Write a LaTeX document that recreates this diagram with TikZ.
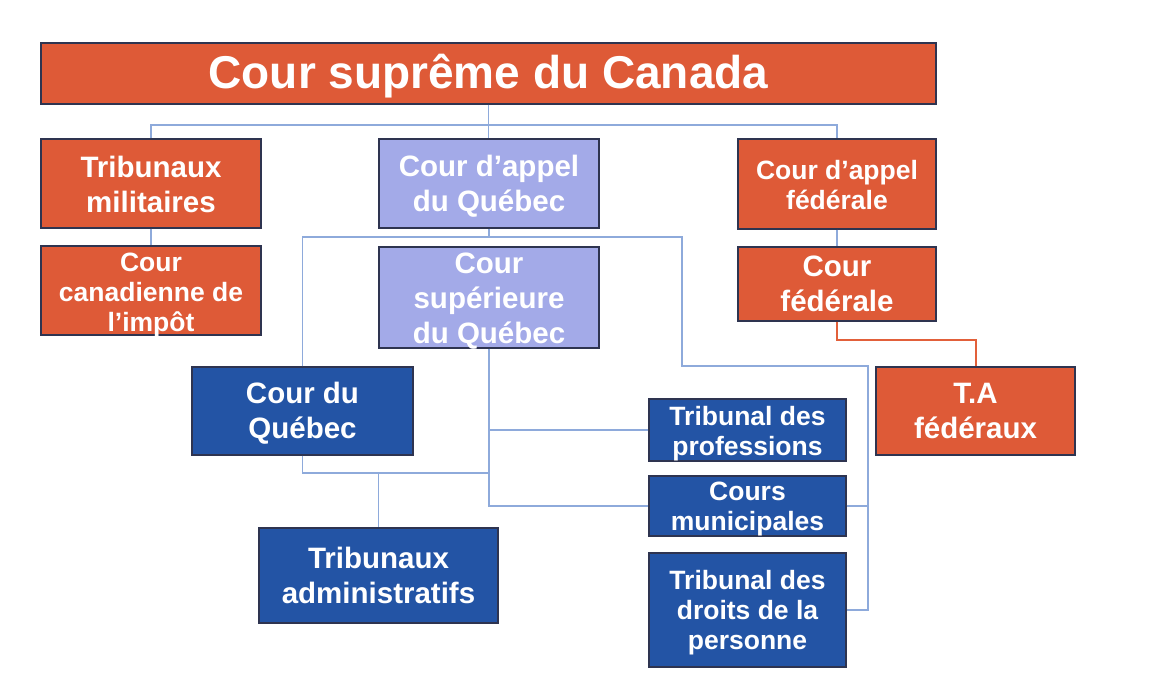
\documentclass[tikz,border=0pt]{standalone}
\usepackage{fontspec}
\setmainfont{Liberation Sans}
\definecolor{orng}{HTML}{DE5A37}
\definecolor{lilac}{HTML}{A3AAE8}
\definecolor{navy}{HTML}{2354A5}
\definecolor{edge}{HTML}{2E3450}
\definecolor{wire}{HTML}{8EAADB}
\definecolor{owire}{HTML}{E2603A}
\begin{document}
\begin{tikzpicture}[x=1pt,y=-1pt,
  box/.style={draw=edge,line width=1.2pt,inner sep=0pt},
  txt/.style={text=white,align=center,inner sep=0pt},
  big/.style={font=\bfseries\fontsize{29.5}{35}\selectfont},
  small/.style={font=\bfseries\fontsize{26.5}{30}\selectfont},
  org/.style={box,fill=orng},
  lil/.style={box,fill=lilac},
  blu/.style={box,fill=navy},
  wireline/.style={draw=wire,line width=1.3pt},
  owireline/.style={draw=owire,line width=2pt}]
\useasboundingbox (0,0) rectangle (1170,698);
\fill[white] (0,0) rectangle (1170,698);
% boxes
\node[org,minimum width=895pt,minimum height=61pt,
  label={[txt,font=\bfseries\fontsize{46}{50}\selectfont,yshift=-3pt]center:{Cour suprême du Canada}}] (sup) at (488.5,73.5) {};
\node[org,minimum width=220pt,minimum height=89pt,
  label={[txt,big,yshift=-1pt]center:{Tribunaux\\militaires}}] (tm) at (151,183.5) {};
\node[org,minimum width=220pt,minimum height=89pt,
  label={[txt,small,yshift=-4pt]center:{Cour\\canadienne de\\l’impôt}}] (cci) at (151,290.5) {};
\node[lil,minimum width=220pt,minimum height=89pt,
  label={[txt,big,yshift=-3pt]center:{Cour d’appel\\du Québec}}] (caq) at (489,183.5) {};
\node[lil,minimum width=220pt,minimum height=101pt,
  label={[txt,big,yshift=-4pt]center:{Cour\\supérieure\\du Québec}}] (csq) at (489,297.5) {};
\node[org,minimum width=198pt,minimum height=90pt,
  label={[txt,small,yshift=-1pt]center:{Cour d’appel\\fédérale}}] (caf) at (837,184) {};
\node[org,minimum width=198pt,minimum height=74pt,
  label={[txt,big]center:{Cour\\fédérale}}] (cf) at (837,284) {};
\node[org,minimum width=199pt,minimum height=88pt,
  label={[txt,big]center:{T.A\\fédéraux}}] (taf) at (975.5,411) {};
\node[blu,minimum width=221pt,minimum height=88pt,
  label={[txt,big,yshift=-2pt]center:{Cour du\\Québec}}] (cq) at (302.5,411) {};
\node[blu,minimum width=197pt,minimum height=62pt,
  label={[txt,small,yshift=-4pt]center:{Tribunal des\\professions}}] (tp) at (747.5,430) {};
\node[blu,minimum width=197pt,minimum height=60pt,
  label={[txt,small,yshift=-3pt]center:{Cours\\municipales}}] (cm) at (747.5,506) {};
\node[blu,minimum width=197pt,minimum height=114pt,
  label={[txt,small,yshift=-3pt]center:{Tribunal des\\droits de la\\personne}}] (tdp) at (747.5,610) {};
\node[blu,minimum width=239pt,minimum height=95pt,
  label={[txt,big]center:{Tribunaux\\administratifs}}] (ta) at (378.5,575.5) {};
% junction points
\coordinate (j1) at (488.5,125);
\coordinate (j2) at (489,237);
\coordinate (k1) at (682,237);
\coordinate (k2) at (682,366);
\coordinate (rx) at (868,366);
\coordinate (m) at (378.5,473);
% connectors
\begin{scope}[wireline]
\draw (sup.south) -- (sup.south |- caq.north);
\draw (tm.north) |- (j1) -| (caf.north);
\draw (tm.south) -- (cci.north);
\draw (caq.south) -- (j2);
\draw (cq.north) |- (k1) -- (k2) -- (rx) |- (tdp.east);
\draw (cm.east) -- (cm.east -| rx);
\draw (csq.south) |- (cm.west);
\draw (tp.west) -- (tp.west -| csq.south);
\draw (cq.south) |- (m) -- (ta.north);
\draw (m) -- (m -| csq.south);
\draw (caf.south) -- (cf.north);
\end{scope}
\draw[owireline] (cf.south) -- ++(0,18) -| (taf.north);
\end{tikzpicture}
\end{document}
